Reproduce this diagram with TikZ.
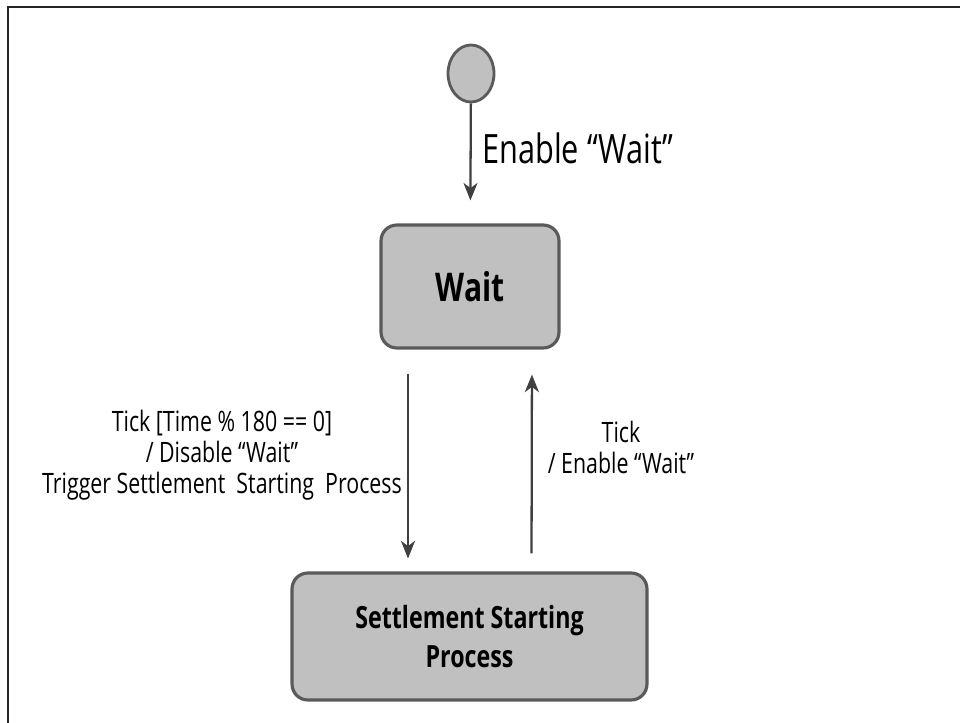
\documentclass[tikz,border=0pt]{standalone}
\usepackage{fontspec}
\setmainfont{Open Sans}[FakeStretch=0.76]
\usetikzlibrary{arrows.meta}
\usetikzlibrary{calc}
\usetikzlibrary{positioning}
\usetikzlibrary{shapes.geometric}
\definecolor{stategray}{HTML}{C0C0C0}
\definecolor{bordergray}{HTML}{5A5A5A}
\definecolor{arrowgray}{HTML}{404040}
\tikzset{state/.style={rectangle, rounded corners=9pt, draw=bordergray, line width=1.8pt, fill=stategray, align=center, inner sep=0pt},
         initial/.style={ellipse, draw=bordergray, line width=1.6pt, fill=stategray, minimum width=0.92cm, minimum height=1.14cm, inner sep=0pt},
         trans/.style={draw=arrowgray, line width=1.3pt, -{Stealth[length=10pt, width=8pt, inset=3pt]}},
         guard/.style={align=center, inner sep=0pt, font=\fontsize{16}{17.6}\selectfont}}

\begin{document}
\begin{tikzpicture}[x=0.02cm, y=-0.02cm]
  \useasboundingbox (0,0) rectangle (960,723);
  \draw[line width=1.6pt, black!85] (8,723) -- (8,7) -- (960,7);
  \node[initial] (init) at (471,73.5) {};
  \node[state, minimum width=3.56cm, minimum height=2.46cm,
        font=\fontsize{22.5}{26}\bfseries\selectfont] (wait) at (470,286.5) {Wait};
  \node[state, minimum width=7.1cm, minimum height=2.54cm,
        font=\fontsize{17.4}{22.7}\bfseries\selectfont] (settle) at (469.5,636.5) {Settlement Starting\\Process};
  \node[inner sep=0pt, anchor=west, font=\fontsize{23}{26}\selectfont] (enable) at (482,148) {Enable “Wait”};
  \node[guard] (down label) at (222,455) {Tick [Time \% 180 == 0]\\/ Disable “Wait”\\Trigger Settlement\ \ Starting\ \ Process};
  \node[guard] (up label) at (621,447) {Tick\\/ Enable “Wait”};
  \draw[trans, shorten >=0.46cm] (init) -- (wait);
  \draw[trans, shorten <=0.48cm, shorten >=0.26cm] ([xshift=-1.24cm]wait.south) -- ([xshift=-1.24cm]wait.south |- settle.north);
  \draw[trans, shorten <=0.36cm, shorten >=0.5cm] ([xshift=1.24cm]settle.north |- settle.north) -- ([xshift=1.24cm]wait.south);
\end{tikzpicture}
\end{document}
